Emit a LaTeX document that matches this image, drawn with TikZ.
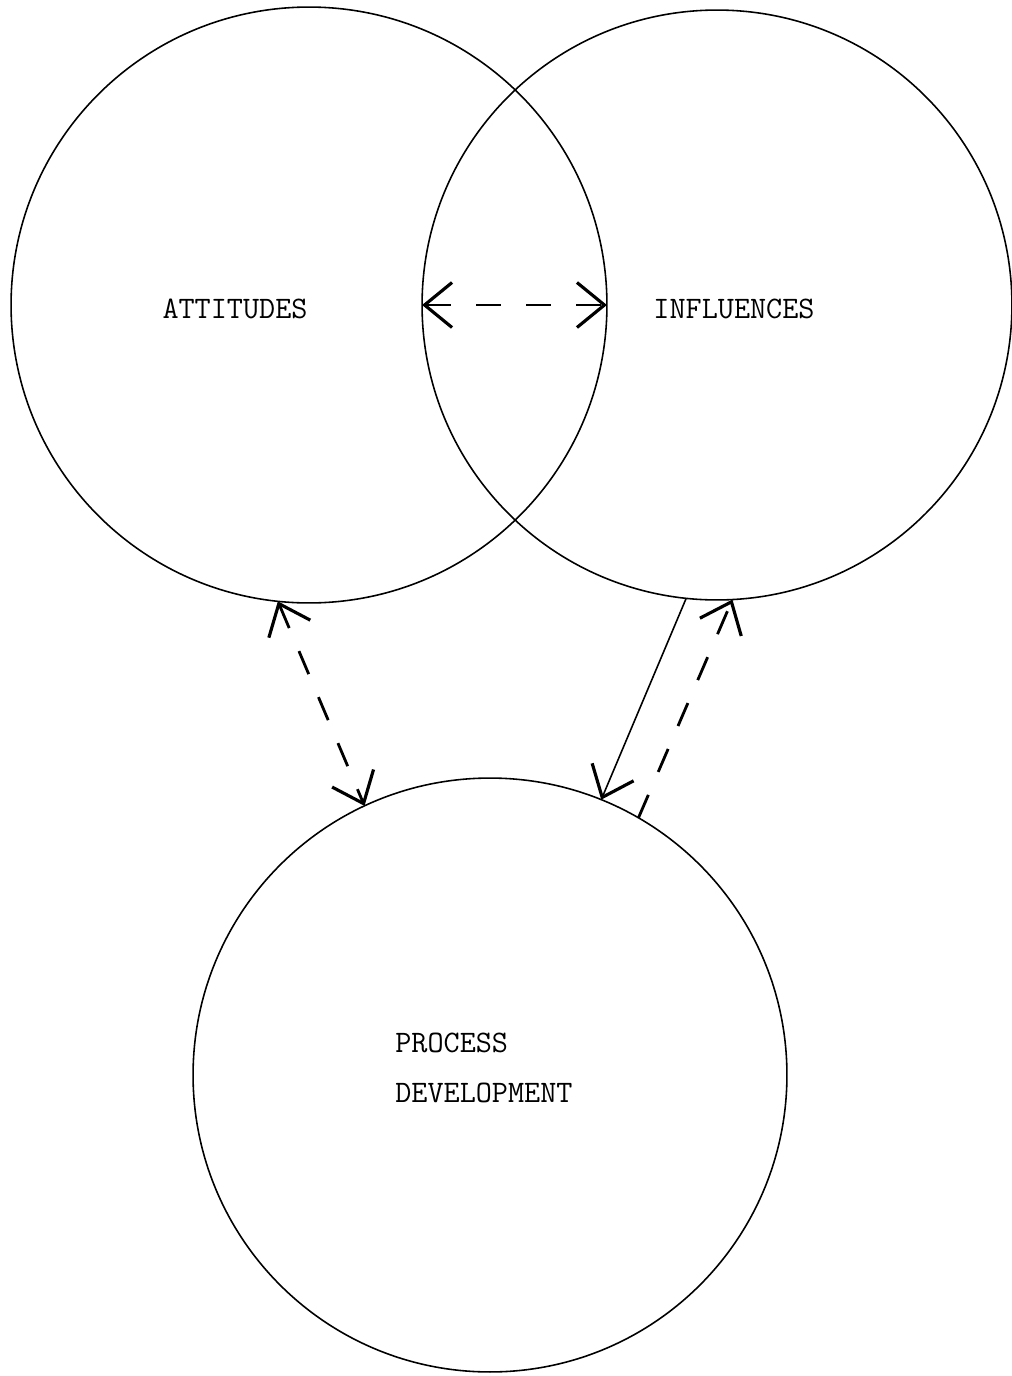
\documentclass[tikz,border=0pt]{standalone}
\usepackage{fontspec}
\usetikzlibrary{arrows.meta}
\begin{document}
\begin{tikzpicture}[
  x=0.02cm,y=-0.02cm,
  blob/.style={draw,circle,line width=0.9pt,inner sep=0pt,outer sep=0pt},
  lbl/.style={font=\ttfamily\fontsize{17.8}{28.5}\selectfont,inner sep=0pt},
  barb/.tip={Straight Barb[length=5.5mm,width=9mm,line width=1.8pt]},
  dsh/.style={line width=1.6pt,dash pattern=on 5mm off 5mm},
  sol/.style={line width=0.9pt}]
\useasboundingbox (0,0) rectangle (1011,1376);
% ---- the three circles ----
\node[blob,minimum size=11.92cm] (att) at (309,305) {};
\node[blob,minimum size=11.8cm] (inf) at (717,305) {};
\node[blob,minimum size=11.88cm] (proc) at (490,1075) {};
% ---- labels ----
\node[lbl] (attlbl) at (235,309) {ATTITUDES};
\node[lbl] (inflbl) at (734,309) {INFLUENCES};
\node[lbl,align=left,anchor=west] (proclbl) at (395,1068) {PROCESS\\DEVELOPMENT};
% ---- connectors ----
\draw[dsh,{barb}-{barb}] (inf.180) -- (att.0);
\draw[dsh,{barb}-{barb}] (att.-96) -- (proc.115);
\draw[sol,-{barb}] (inf.-96) -- (proc.68.6);
\draw[dsh,-{barb}] (proc.60) -- (inf.-87.5);
\end{tikzpicture}
\end{document}
